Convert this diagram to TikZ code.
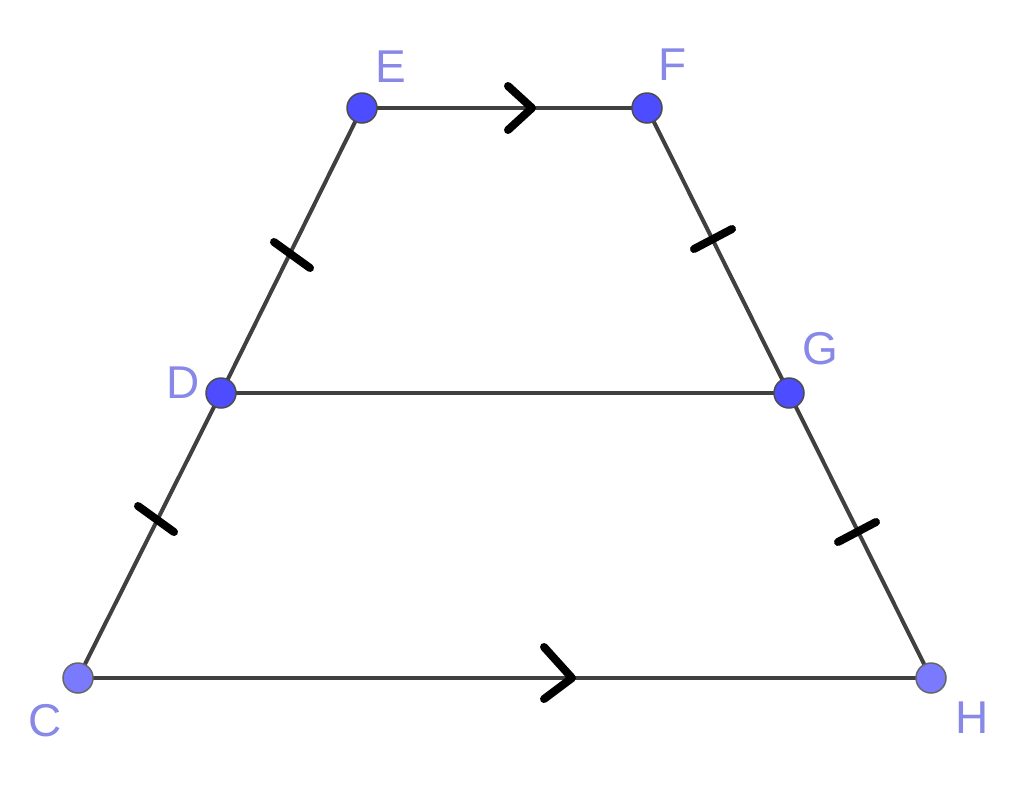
\documentclass[tikz,border=0pt]{standalone}
\usepackage{fontspec}
\setmainfont{Liberation Sans}
\usetikzlibrary{calc}
\begin{document}
\begin{tikzpicture}[x=1pt,y=-1pt,
  seg/.style={draw=black!75, line width=4pt},
  hatch/.style={draw=black, line width=8pt, line cap=round, line join=round},
  ptA/.style={circle, draw=black!70, line width=1.5pt, fill={rgb,255:red,77;green,77;blue,255}, minimum size=30pt, inner sep=0pt},
  ptB/.style={circle, draw=black!60, line width=1.5pt, fill={rgb,255:red,122;green,122;blue,255}, minimum size=30pt, inner sep=0pt},
  lbl/.style={text={rgb,255:red,136;green,136;blue,232}, font=\fontsize{46}{50}\selectfont, inner sep=0pt}]
\useasboundingbox (0,0) rectangle (1024,785);
\coordinate (E) at (362,108);
\coordinate (F) at (647,108);
\coordinate (D) at (221,393);
\coordinate (G) at (789,393);
\coordinate (C) at (78,678);
\coordinate (H) at (931,678);
% sides
\draw[seg] (E) -- (F);
\draw[seg] (F) -- (G) -- (H);
\draw[seg] (E) -- (D) -- (C);
\draw[seg] (D) -- (G);
\draw[seg] (C) -- (H);
% parallel chevrons
\draw[hatch] (508,86) -- (532,108) -- (508,130);
\draw[hatch] (544,647) -- (572,678) -- (544,699);
% tick marks
\draw[hatch] ($(292,255)+(-18,-13)$) -- ($(292,255)+(18,13)$);
\draw[hatch] ($(156,519)+(-18,-13)$) -- ($(156,519)+(18,13)$);
\draw[hatch] ($(713,239)+(-19,10)$) -- ($(713,239)+(19,-10)$);
\draw[hatch] ($(857,532)+(-19,10)$) -- ($(857,532)+(19,-10)$);
% points
\node[ptA] (pE) at (E) {};
\node[ptA] (pF) at (F) {};
\node[ptA] (pD) at (D) {};
\node[ptA] (pG) at (G) {};
\node[ptB] (pC) at (C) {};
\node[ptB] (pH) at (H) {};
% labels
\node[lbl] (lE) at (391,67) {E};
\node[lbl] (lF) at (673,65) {F};
\node[lbl] (lG) at (820,349) {G};
\node[lbl] (lD) at (183,383) {D};
\node[lbl] (lC) at (45,721) {C};
\node[lbl] (lH) at (972,718) {H};
\end{tikzpicture}
\end{document}
